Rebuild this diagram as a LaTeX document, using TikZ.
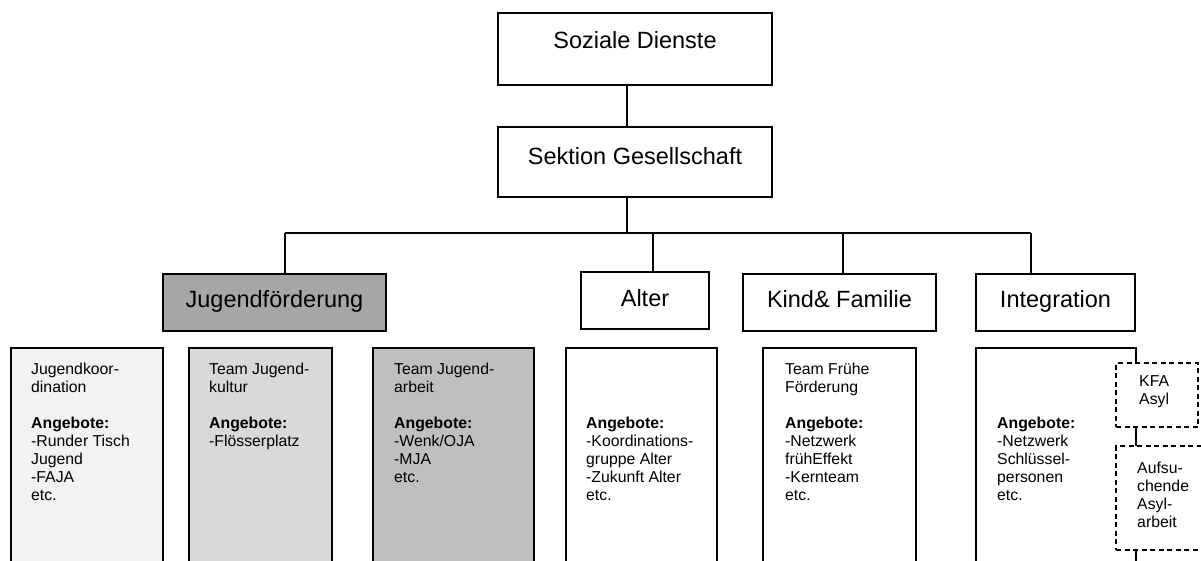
\documentclass[tikz,border=0pt]{standalone}
\usepackage{fontspec}
\setmainfont{Liberation Sans}
\usetikzlibrary{calc}
\newcommand{\bigtxt}{\fontsize{23.5}{27}\selectfont}
\newcommand{\smalltxt}{\fontsize{15.8}{18}\selectfont}
\newcommand{\txtlines}[1]{\begin{tabular}[t]{@{}l@{}}#1\end{tabular}}
\definecolor{jfgray}{HTML}{A6A6A6}
\definecolor{gone}{HTML}{F2F2F2}
\definecolor{gtwo}{HTML}{D9D9D9}
\definecolor{gthree}{HTML}{BFBFBF}
\begin{document}
\begin{tikzpicture}[x=1pt,y=-1pt,
  box/.style={draw=black, line width=1.3pt, rectangle, inner sep=0pt},
  lbl/.style={inner sep=0pt, font=\bigtxt, anchor=base},
  small/.style={inner sep=0pt, font=\smalltxt, anchor=base west},
  dbox/.style={draw=black, line width=1.1pt, dash pattern=on 5pt off 3.5pt, fill=white, rectangle, inner sep=0pt},
  conn/.style={line width=1.3pt}]
\useasboundingbox (0,0) rectangle (1201,560);
\clip (0,0) rectangle (1201,560);
% top level
\node[box, minimum width=274pt, minimum height=72pt] (sd) at (635,49) {};
\node[lbl] (sdt) at (635,48) {Soziale Dienste};
\node[box, minimum width=274pt, minimum height=70pt] (sg) at (635,162) {};
\node[lbl] (sgt) at (635,164) {Sektion Gesellschaft};
% middle level
\node[box, fill=jfgray, minimum width=223pt, minimum height=57pt] (jf) at (274.5,302.5) {};
\node[lbl] (jft) at (274.5,307) {Jugendförderung};
\node[box, minimum width=128pt, minimum height=57pt] (al) at (645,300.5) {};
\node[lbl] (alt) at (645,306) {Alter};
\node[box, minimum width=193pt, minimum height=57pt] (kf) at (839.5,302.5) {};
\node[lbl] (kft) at (839.5,307) {Kind\& Familie};
\node[box, minimum width=159pt, minimum height=57pt] (ig) at (1055.5,302.5) {};
\node[lbl] (igt) at (1055.5,307) {Integration};
% connectors
\coordinate (topx) at (627,0);
\coordinate (bus) at (627,233);
\coordinate (jfx) at (285,233);
\coordinate (alx) at (653,233);
\coordinate (kfx) at (843,233);
\coordinate (igx) at (1031,233);
\draw[conn] (sd.south -| topx) -- (sg.north -| topx);
\draw[conn] (sg.south -| bus) -- (bus);
\draw[conn] (jfx) -- (igx);
\draw[conn] (jfx) -- (jfx |- jf.north);
\draw[conn] (alx) -- (alx |- al.north);
\draw[conn] (kfx) -- (kfx |- kf.north);
\draw[conn] (igx) -- (igx |- ig.north);
% bottom boxes
\node[box, fill=gone, minimum width=152pt, minimum height=252pt] (b1) at (87,474) {};
\node[box, fill=gtwo, minimum width=143pt, minimum height=252pt] (b2) at (260.5,474) {};
\node[box, fill=gthree, minimum width=161pt, minimum height=252pt] (b3) at (453.5,474) {};
\node[box, minimum width=151pt, minimum height=252pt] (b4) at (641.5,474) {};
\node[box, minimum width=153pt, minimum height=252pt] (b5) at (839.5,474) {};
\node[box, minimum width=160pt, minimum height=252pt] (b6) at (1056,474) {};
\node[dbox, minimum width=82pt, minimum height=64pt] (kfa) at (1157,395) {};
\node[dbox, minimum width=114pt, minimum height=104pt] (aufs) at (1173,498) {};
% texts
\node[small] (b1t) at (31,374) {\txtlines{Jugendkoor-\\dination\\ \\\textbf{Angebote:}\\-Runder Tisch\\Jugend\\-FAJA\\etc.}};
\node[small] (b2t) at (209,374) {\txtlines{Team Jugend-\\kultur\\ \\\textbf{Angebote:}\\-Flösserplatz}};
\node[small] (b3t) at (394,374) {\txtlines{Team Jugend-\\arbeit\\ \\\textbf{Angebote:}\\-Wenk/OJA\\-MJA\\etc.}};
\node[small] (b4t) at (586,428) {\txtlines{\textbf{Angebote:}\\-Koordinations-\\gruppe Alter\\-Zukunft Alter\\etc.}};
\node[small] (b5t) at (785,374) {\txtlines{Team Frühe\\Förderung\\ \\\textbf{Angebote:}\\-Netzwerk\\frühEffekt\\-Kernteam\\etc.}};
\node[small] (b6t) at (997,428) {\txtlines{\textbf{Angebote:}\\-Netzwerk\\Schlüssel-\\personen\\etc.}};
\node[small] (kfat) at (1139,386) {\txtlines{KFA\\Asyl}};
\node[small] (aufst) at (1137,473) {\txtlines{Aufsu-\\chende\\Asyl-\\arbeit}};
\end{tikzpicture}
\end{document}
